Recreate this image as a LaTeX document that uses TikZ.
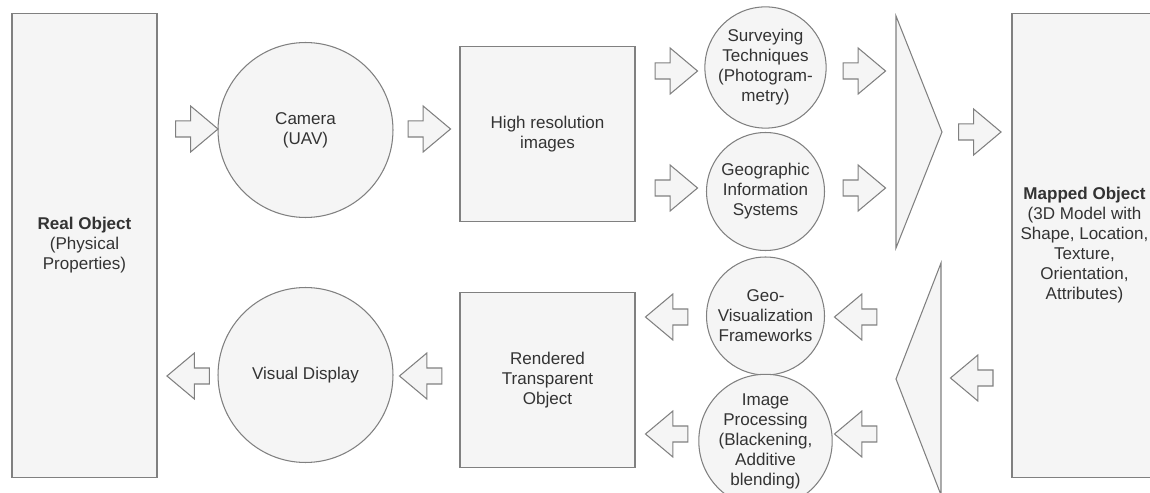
\documentclass[tikz,border=0pt]{standalone}
\usepackage{fontspec}
\setmainfont{Liberation Sans}
\usepackage{tikz}
\usetikzlibrary{shapes.arrows,shapes.geometric}
\definecolor{boxfill}{HTML}{F5F5F5}
\definecolor{boxline}{HTML}{808080}
\definecolor{boxtext}{HTML}{333333}

\begin{document}
\begin{tikzpicture}[
x=0.02cm,y=-0.02cm,
font=\fontsize{9.7}{11.4}\selectfont,
block/.style={draw=boxline,fill=boxfill,text=boxtext,line width=0.6pt,align=center,inner sep=0pt},
tall/.style={block,rectangle,minimum width=2.9cm,minimum height=9.3cm},
square/.style={block,rectangle,minimum width=3.5cm,minimum height=3.5cm},
bigdisc/.style={block,circle,minimum size=3.5cm},
smalldisc/.style={block,circle,minimum size=2.36cm},
fwd/.style={draw=boxline,fill=boxfill,line width=0.6pt,single arrow,single arrow head extend=0.3cm,
  single arrow tip angle=80,inner sep=0.15cm,minimum width=0.9cm,minimum height=0.85cm},
back/.style={fwd,shape border rotate=180},
wedge/.style={draw=boxline,fill=boxfill,line width=0.6pt,line join=miter},
scale=1]
    % Frame
    \useasboundingbox (0,0) rectangle (1150,493);
    \clip (0,0) rectangle (1150,493);

    % Top row
    \node[tall] (real) at (84.5,245.5) {\textbf{Real Object}\\(Physical\\Properties)};
    \node[bigdisc] (cam) at (305.5,130) {Camera\\(UAV)};
    \node[square] (hires) at (547.5,134) {High resolution\\images};
    \node[smalldisc] (survey) at (765.5,67.5) {Surveying\\Techniques\\(Photogram-\\metry)};
    \node[smalldisc] (gis) at (765.5,191.5) {Geographic\\Information\\Systems};
    \draw[wedge] (896,16) coordinate (mergetop) -- (942,132) coordinate (merge) -- (896,248) -- cycle;
    \node[tall] (mapped) at (1084.5,245.5) {\textbf{Mapped Object}\\(3D Model with\\Shape, Location,\\Texture,\\Orientation,\\Attributes)};

    \node[fwd] (tocam) at (192,129) {};
    \node[fwd] (tohires) at (424.5,129) {};
    \node[fwd] (tosurvey) at (671.5,71) {};
    \node[fwd] (togis) at (671.5,188) {};
    \node[fwd] (fromsurvey) at (859.5,71) {};
    \node[fwd] (fromgis) at (859.5,188) {};
    \node[fwd] (tomapped) at (975,132) {};

    % Bottom row
    \draw[wedge] (941,263) coordinate (splittop) -- (896,379) coordinate (split) -- (941,495) -- cycle;
    \node[smalldisc] (geovis) at (765.5,316) {Geo-\\Visualization\\Frameworks};
    \node[smalldisc] (improc) at (765.5,441) {Image\\Processing\\(Blackening,\\Additive\\blending)};
    \node[square] (render) at (547.5,380) {Rendered\\Transparent\\Object};
    \node[bigdisc] (display) at (305.5,375) {Visual Display};

    \node[back] (tosplit) at (976.5,378) {};
    \node[back] (togeovis) at (860.5,317) {};
    \node[back] (toimproc) at (860.5,434) {};
    \node[back] (fromgeovis) at (671.5,317) {};
    \node[back] (fromimproc) at (671.5,434) {};
    \node[back] (todisplay) at (425.5,376) {};
    \node[back] (toreal) at (193,376) {};
\end{tikzpicture}
\end{document}
